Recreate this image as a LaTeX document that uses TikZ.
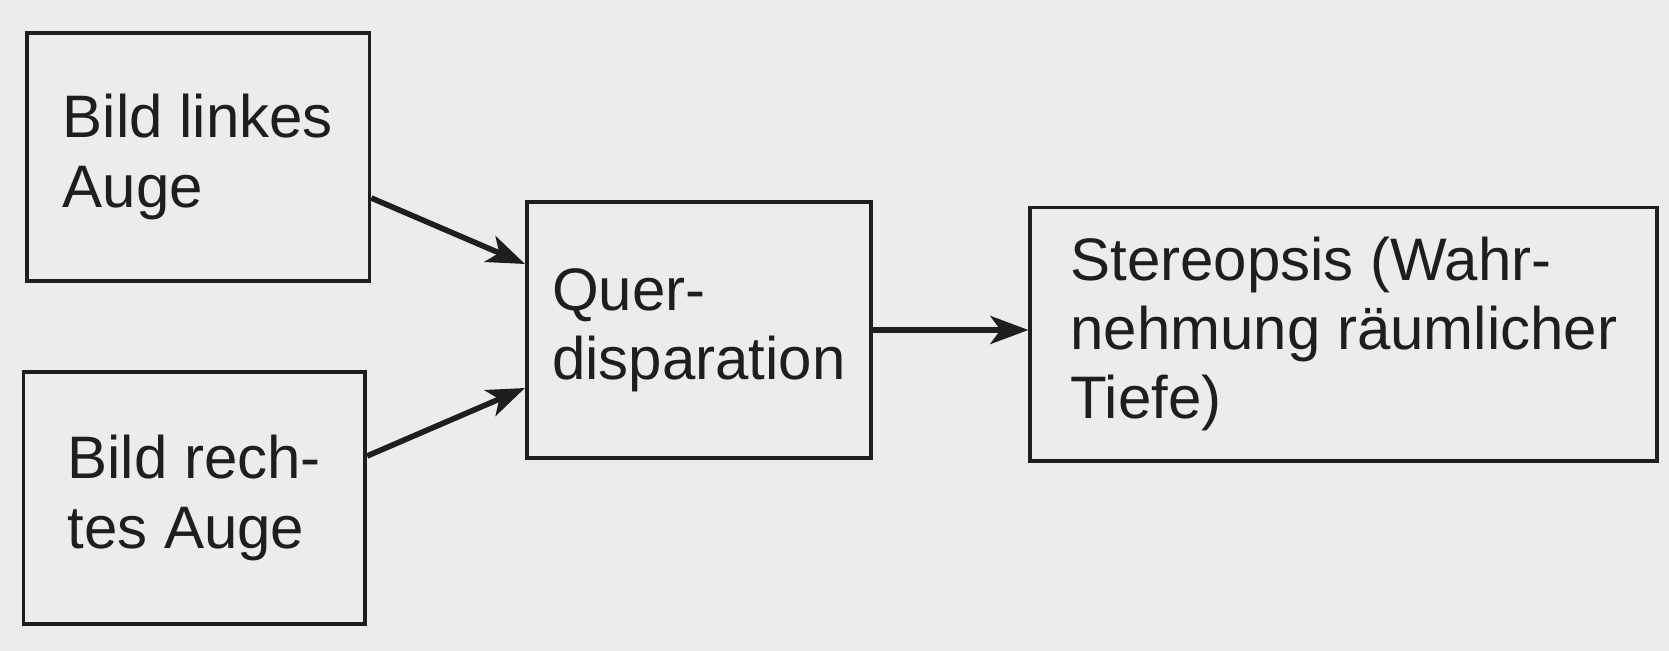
\documentclass[tikz,border=0pt]{standalone}
\usepackage{fontspec}
\setmainfont{Liberation Sans}
\usetikzlibrary{arrows.meta}
\definecolor{paper}{RGB}{236,236,235}
\definecolor{ink}{RGB}{30,30,30}
\tikzset{
  box/.style={draw=ink, line width=1.9pt, fill=paper, align=left, inner xsep=0pt,
    text=ink, font=\fontsize{30}{34.6}\selectfont},
  arr/.style={draw=ink, line width=2.8pt,
    -{Stealth[length=19pt,width=14pt,inset=5pt]}}
}
\begin{document}
\begin{tikzpicture}[x=0.5pt,y=-0.5pt]
\fill[paper] (0,0) rectangle (1669,651);
\useasboundingbox (0,0) rectangle (1669,651);
\node[box, minimum width=171.4pt, minimum height=124pt] (b1) at (198,157) {Bild linkes\\Auge};
\node[box, minimum width=170.9pt, minimum height=125.6pt] (b2) at (194.3,498) {Bild rech-\\tes Auge};
\node[box, minimum width=171.9pt, minimum height=127.7pt] (q) at (698.8,330) {Quer-\\disparation};
\node[box, minimum width=313.5pt, minimum height=126.6pt] (s) at (1343.8,334.2) {Stereopsis (Wahr-\\nehmung räumlicher\\Tiefe)};
\draw[arr] ([yshift=-20.5pt]b1.east) -- ([yshift=33pt]q.west);
\draw[arr] ([yshift=21pt]b2.east) -- ([yshift=-29pt]q.west);
\draw[arr] (q.east) -- (q.east -| s.west);
\end{tikzpicture}
\end{document}
